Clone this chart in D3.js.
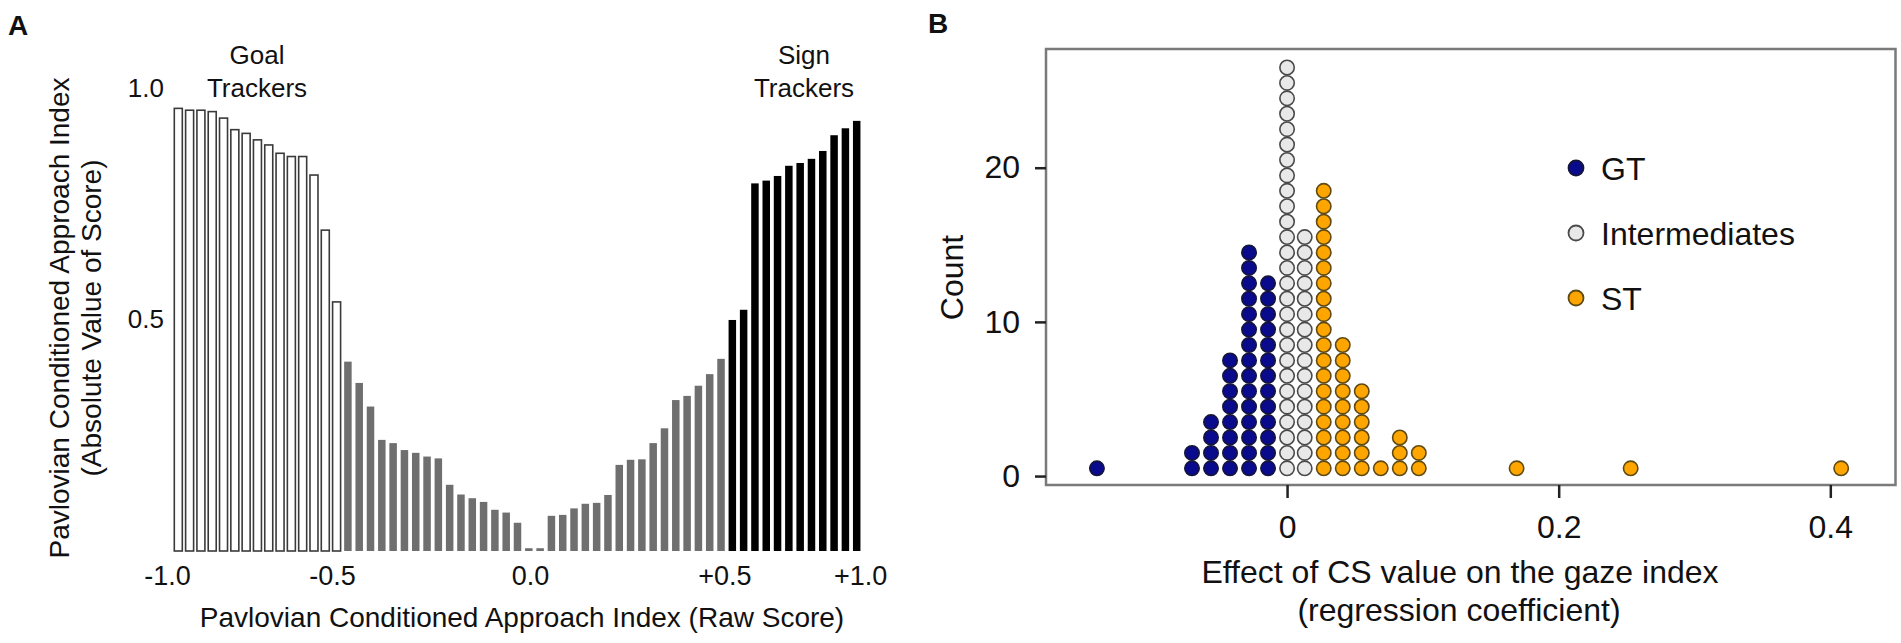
<!DOCTYPE html>
<html>
<head>
<meta charset="utf-8">
<script src="https://cdn.jsdelivr.net/npm/d3@7/dist/d3.min.js"></script>
<style>
  html, body { margin: 0; padding: 0; background: #fff; }
  svg { display: block; }
  text { font-family: "Liberation Sans", Arial, Helvetica, sans-serif; fill: #111; }
</style>
</head>
<body>
<svg id="chart" width="1901" height="643"></svg>
<script>
// ---------- Panel A data (|PCA index| per subject, sorted by raw score) ----------
const barGoalTrackers = [0.956,0.952,0.952,0.949,0.935,0.910,0.902,0.888,0.877,0.859,0.852,0.852,0.812,0.693,0.538];
const barIntermediates = [0.409,0.363,0.312,0.240,0.233,0.218,0.212,0.204,0.200,0.143,0.122,0.114,0.106,0.089,0.083,0.061,0.006,0.006,
                          0.076,0.078,0.092,0.102,0.104,0.121,0.186,0.197,0.198,0.233,0.265,0.326,0.335,0.357,0.382,0.415];
const barSignTrackers = [0.499,0.521,0.794,0.800,0.810,0.832,0.838,0.847,0.864,0.898,0.913,0.929];
const rawTickLabels = ["-1.0","-0.5","0.0","+0.5","+1.0"];
const rawTickAtBar  = [-1.0, 13.6, 31.1, 48.3, 60.3];   // position of each raw-score label, in bar-rank units
const absTickValues = [0.5, 1.0];

// ---------- Panel B data (dot histogram of regression coefficients) ----------
const gtBins  = [-0.140,-0.070,-0.056,-0.042,-0.028,-0.014];
const gtCounts = [1,2,4,8,15,13];
const intBins = [0.000,0.013];
const intCounts = [27,16];
const stBins  = [0.027,0.041,0.055,0.069,0.083,0.097,0.169,0.253,0.408];
const stCounts = [19,9,6,1,3,2,1,1,1];
const countTicks = [0,10,20];
const coefTicks = [0,0.2,0.4];
const legendNames = ["GT","Intermediates","ST"];

const svg = d3.select("#chart");

// ================= Panel A =================
const bars = [
  ...barGoalTrackers.map(v => ({v, g:"gt"})),
  ...barIntermediates.map(v => ({v, g:"int"})),
  ...barSignTrackers.map(v => ({v, g:"st"}))
];
const xA = d3.scaleLinear().domain([0, bars.length - 1]).range([178.3, 856.7]);
const yA = d3.scaleLinear().domain([0, 1]).range([551, 88]);

const gA = svg.append("g");
gA.selectAll("rect.bar").data(bars).enter().append("rect")
  .attr("class","bar")
  .attr("x", (d,i) => xA(i) - (d.g === "gt" ? 4 : 3.75))
  .attr("width", d => d.g === "gt" ? 8 : 7.5)
  .attr("y", d => yA(d.v))
  .attr("height", d => yA(0) - yA(d.v))
  .attr("fill", d => d.g === "gt" ? "#ffffff" : (d.g === "int" ? "#6f6f6f" : "#000000"))
  .attr("stroke", d => d.g === "gt" ? "#3a3a3a" : "none")
  .attr("stroke-width", 1.6);

// x axis labels (raw score)
const axA = gA.append("g").attr("transform", `translate(0,${yA(0)})`)
  .call(d3.axisBottom(xA).tickValues(rawTickAtBar).tickFormat((d,i) => rawTickLabels[i]).tickSize(0).tickPadding(14.8));
axA.select(".domain").remove();
axA.selectAll("text").style("font-size","27px").style("fill","#111");

// y axis labels (absolute value)
const ayA = gA.append("g").attr("transform", "translate(167,0)")
  .call(d3.axisLeft(yA).tickValues(absTickValues).tickFormat(d3.format(".1f")).tickSize(0).tickPadding(3));
ayA.select(".domain").remove();
ayA.selectAll("text").style("font-size","26px").style("fill","#111");

// group annotations
const ann = [{x:257, l1:"Goal", l2:"Trackers"}, {x:804, l1:"Sign", l2:"Trackers"}];
ann.forEach(a => {
  gA.append("text").attr("x", a.x).attr("y", 64).attr("text-anchor","middle").style("font-size","26px").text(a.l1);
  gA.append("text").attr("x", a.x).attr("y", 97).attr("text-anchor","middle").style("font-size","26px").text(a.l2);
});

// axis titles
gA.append("text").attr("x", 522).attr("y", 627).attr("text-anchor","middle")
  .style("font-size","28px").text("Pavlovian Conditioned Approach Index (Raw Score)");
gA.append("text").attr("transform","translate(69,318) rotate(-90)").attr("text-anchor","middle")
  .style("font-size","28px").text("Pavlovian Conditioned Approach Index");
gA.append("text").attr("transform","translate(101,318) rotate(-90)").attr("text-anchor","middle")
  .style("font-size","28px").text("(Absolute Value of Score)");

// panel letter
svg.append("text").attr("x", 8).attr("y", 35).style("font-size","28px").style("font-weight","bold").text("A");

// ================= Panel B =================
const xB = d3.scaleLinear().domain([-0.1775, 0.448]).range([1046, 1895.5]);
const yB = d3.scaleLinear().domain([-0.58, 27.7]).range([485, 49]);
const gB = svg.append("g");

gB.append("rect")
  .attr("x", xB(-0.1775)).attr("y", yB(27.7))
  .attr("width", xB(0.448) - xB(-0.1775)).attr("height", yB(-0.58) - yB(27.7))
  .attr("fill","none").attr("stroke","#7a7a7a").attr("stroke-width",2.5);

const ayB = gB.append("g").attr("transform", `translate(${xB(-0.1775)},0)`)
  .call(d3.axisLeft(yB).tickValues(countTicks).tickSize(11).tickPadding(15));
ayB.select(".domain").remove();
ayB.selectAll("line").attr("stroke","#222").attr("stroke-width",2.5);
ayB.selectAll("text").style("font-size","32px").style("fill","#111");

const axB = gB.append("g").attr("transform", `translate(0,${yB(-0.58)})`)
  .call(d3.axisBottom(xB).tickValues(coefTicks).tickFormat(d => d === 0 ? "0" : d3.format(".1f")(d)).tickSize(13).tickPadding(17.5));
axB.select(".domain").remove();
axB.selectAll("line").attr("stroke","#222").attr("stroke-width",2.5);
axB.selectAll("text").style("font-size","32px").style("fill","#111");

const groupStyle = {
  gt:  {fill:"#0a0a8c", stroke:"#15153a"},
  int: {fill:"#e8e8e8", stroke:"#4a4a4a"},
  st:  {fill:"#ffa500", stroke:"#5e4a12"}
};
const dots = [];
[[gtBins, gtCounts, "gt"], [intBins, intCounts, "int"], [stBins, stCounts, "st"]].forEach(([bins, counts, g]) => {
  bins.forEach((b, j) => { for (let k = 0; k < counts[j]; k++) dots.push({x:b, k, g}); });
});
gB.selectAll("circle.dot").data(dots).enter().append("circle")
  .attr("class","dot")
  .attr("cx", d => xB(d.x))
  .attr("cy", d => yB(d.k + 0.5))
  .attr("r", 7.2)
  .attr("fill", d => groupStyle[d.g].fill)
  .attr("stroke", d => groupStyle[d.g].stroke)
  .attr("stroke-width", 1.6);

// legend
const legKeys = ["gt","int","st"];
const legY = [168, 233, 298];
legKeys.forEach((k, i) => {
  gB.append("circle").attr("cx", 1576).attr("cy", legY[i]).attr("r", 7.5)
    .attr("fill", groupStyle[k].fill).attr("stroke", groupStyle[k].stroke).attr("stroke-width", 1.8);
  gB.append("text").attr("x", 1601).attr("y", legY[i]).attr("dy","0.36em")
    .style("font-size","32px").text(legendNames[i]);
});

// axis titles
gB.append("text").attr("x", 1460).attr("y", 583).attr("text-anchor","middle")
  .style("font-size","32px").text("Effect of CS value on the gaze index");
gB.append("text").attr("x", 1459).attr("y", 621).attr("text-anchor","middle")
  .style("font-size","32px").text("(regression coefficient)");
gB.append("text").attr("transform","translate(963,277.5) rotate(-90)").attr("text-anchor","middle")
  .style("font-size","32px").text("Count");

svg.append("text").attr("x", 928).attr("y", 33).style("font-size","28px").style("font-weight","bold").text("B");
</script>
</body>
</html>
